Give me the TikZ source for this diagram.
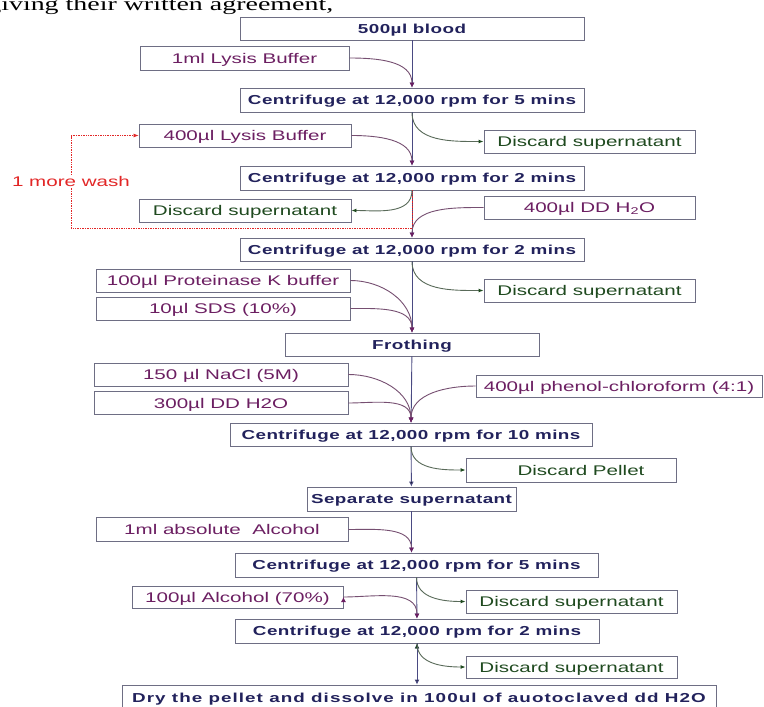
\documentclass[tikz,border=0pt]{standalone}
\usepackage{fontspec}
\setmainfont{Liberation Sans}[FakeStretch=1.47]
\newfontfamily\stagefont{Liberation Sans}[FakeStretch=1.45,LetterSpace=3.5]
\newfontfamily\dryfont{Liberation Sans}[FakeStretch=1.45,LetterSpace=8]
\newfontfamily\pagefont{Liberation Serif}[FakeStretch=1.47]
\usepackage{tikz}
\usetikzlibrary{arrows.meta}

\definecolor{stagecol}{HTML}{22225C}
\definecolor{addcol}{HTML}{6C1F62}
\definecolor{dropcol}{HTML}{1F4A1F}
\definecolor{washcol}{HTML}{E22626}
\definecolor{boxcol}{HTML}{6E6E84}
\definecolor{flowcol}{HTML}{4A4A82}

\begin{document}
\begin{tikzpicture}[x=1pt,y=1pt,line width=0.9pt,
    box/.style={draw=boxcol,inner sep=0pt,minimum height=23pt},
    stage box/.style={box,text=stagecol,text height=9.3pt,text depth=0pt,
      font=\stagefont\bfseries\fontsize{13}{15}\selectfont},
    add box/.style={box,text=addcol,text height=10pt,text depth=0pt,font=\fontsize{14}{16}\selectfont},
    drop box/.style={box,text=dropcol,text height=10pt,text depth=0pt,font=\fontsize{14}{16}\selectfont},
    flow/.style={draw=flowcol,-{Latex[length=5pt,width=5pt]}},
    feed/.style={draw=addcol!50!gray,-{Latex[length=5pt,width=5pt,color=addcol]}},
    drain/.style={draw=dropcol!40!gray,-{Latex[length=5pt,width=4pt,color=dropcol]}},
    wash/.style={draw=washcol,line width=0.7pt,densely dotted,-{Latex[length=5pt,width=4pt]}}]

\useasboundingbox (0,0) rectangle (764,-707);
\fill[white] (0,0) rectangle (764,-707);
\clip (0,0) rectangle (764,-707);

\node[font=\pagefont\fontsize{19}{20}\selectfont,anchor=base east] (pagetext) at (337,-10) {giving their written agreement,};

\node[stage box,minimum width=344pt] (blood) at (412,-28.5) {500µl blood};
\node[add box,minimum width=209pt,minimum height=24pt] (lysisA) at (244.5,-58) {1ml Lysis Buffer};
\node[stage box,minimum width=344pt,minimum height=24pt] (spinA) at (412,-100) {Centrifuge at 12,000 rpm for 5 mins};
\node[drop box,minimum width=211pt] (dropA) at (589.5,-141.5) {Discard supernatant};
\node[add box,minimum width=212pt] (lysisB) at (245,-135.5) {400µl Lysis Buffer};
\node[stage box,minimum width=344pt,minimum height=24pt] (spinB) at (412,-178) {Centrifuge at 12,000 rpm for 2 mins};
\node[drop box,minimum width=212pt] (dropB) at (245,-210.5) {Discard supernatant};
\node[add box,minimum width=211pt] (water) at (589.5,-207.5) {400µl DD H\textsubscript{2}O};
\node[stage box,minimum width=344pt] (spinC) at (412,-249.5) {Centrifuge at 12,000 rpm for 2 mins};
\node[drop box,minimum width=211pt] (dropC) at (589.5,-290.5) {Discard supernatant};
\node[add box,minimum width=254pt] (protk) at (223,-280.5) {100µl Proteinase K buffer};
\node[add box,minimum width=254pt] (sds) at (223,-308.5) {10µl SDS (10\%)};
\node[stage box,minimum width=254pt] (froth) at (412,-344.5) {Frothing};
\node[add box,minimum width=254pt] (nacl) at (221,-374.5) {150 µl NaCl (5M)};
\node[add box,minimum width=254pt] (waterB) at (221,-403) {300µl DD H2O};
\node[add box,minimum width=286pt,minimum height=22pt] (phenol) at (619,-386) {400µl phenol-chloroform (4:1)};
\node[stage box,minimum width=362pt] (spinD) at (411,-434.5) {Centrifuge at 12,000 rpm for 10 mins};
\node[drop box,minimum width=210pt,minimum height=24pt] (pellet) at (571,-470) {\hspace*{20pt}Discard Pellet};
\node[stage box,minimum width=209pt,minimum height=24pt] (sep) at (411.5,-499) {Separate supernatant};
\node[add box,minimum width=252pt,minimum height=24pt] (ethA) at (222,-529.5) {1ml absolute\ \ Alcohol};
\node[stage box,minimum width=363pt,minimum height=24pt] (spinE) at (416.5,-565) {Centrifuge at 12,000 rpm for 5 mins};
\node[add box,minimum width=211pt,minimum height=22pt] (ethB) at (237.5,-597) {100µl Alcohol (70\%)};
\node[drop box,minimum width=211pt] (dropE) at (571.5,-601.5) {Discard supernatant};
\node[stage box,minimum width=364pt,minimum height=24pt] (spinF) at (417,-631) {Centrifuge at 12,000 rpm for 2 mins};
\node[drop box,minimum width=211pt,minimum height=22pt] (dropF) at (571.5,-667) {Discard supernatant};
\node[stage box,minimum width=594pt,minimum height=25pt,font=\dryfont\bfseries\fontsize{13}{15}\selectfont] (dry) at (419,-697.5) {Dry the pellet and dissolve in 100ul of auotoclaved dd H2O};

\coordinate (inE) at (sep.south |- spinE.north);
\coordinate (inDry) at (spinF.south |- dry.north);
\coordinate (washpt) at (412,-228);
\coordinate (loop) at (71,-228);

\path[flow]
  (blood) edge (spinA)
  (spinA) edge (spinB)
  (spinB) edge (spinC)
  (spinC) edge (froth)
  (froth) edge (spinD)
  (spinD) edge (sep)
  (sep.south) edge (inE)
  (spinE) edge (spinF)
  (spinF.south) edge (inDry);

\draw[wash] (spinB.south) -- (washpt) -- (loop) |- (lysisB.west);
\node[text=washcol,fill=white,inner sep=1pt,font=\fontsize{14}{16}\selectfont] (washnote) at (71,-181) {1 more wash};

\path[feed]
  (lysisA.east) edge[out=0,in=90] (spinA.north)
  (lysisB.east) edge[out=0,in=90] (spinB.north)
  (water.west) edge[out=180,in=90] (spinC.north)
  (protk.east) edge[out=0,in=90] (froth.north)
  (sds.east) edge[out=0,in=90] (froth.north)
  (nacl.east) edge[out=0,in=90] (spinD.north)
  (waterB.east) edge[out=0,in=90] (spinD.north)
  (phenol.west) edge[out=180,in=90] (spinD.north)
  (ethA.east) edge[out=0,in=90] (inE)
  (ethB.east) edge[out=0,in=90] (spinF.north);

\path[drain]
  (spinA.south) edge[out=-90,in=180] (dropA.west)
  (spinB.south) edge[out=-90,in=0] (dropB.east)
  (spinC.south) edge[out=-90,in=180] (dropC.west)
  (spinD.south) edge[out=-90,in=180] (pellet.west)
  (spinE.south) edge[out=-90,in=180] (dropE.west)
  (spinF.south) edge[out=-90,in=180] (dropF.west);
\end{tikzpicture}
\end{document}
